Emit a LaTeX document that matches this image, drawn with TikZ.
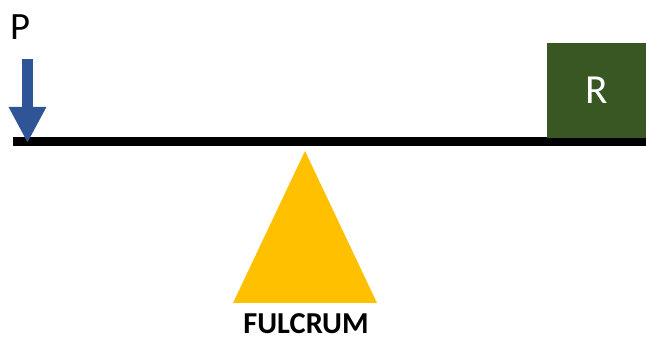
\documentclass[tikz,border=0pt]{standalone}
\usepackage{fontspec}
\setmainfont{Carlito}
\usetikzlibrary{positioning, arrows.meta}

\definecolor{loadgreen}{HTML}{385723}
\definecolor{forceblue}{HTML}{2F5597}
\definecolor{pivotgold}{HTML}{FFC000}

\begin{document}
\begin{tikzpicture}[
    x=0.75pt, y=-0.75pt,
    lever/.style={
        rectangle, fill=black, inner sep=0pt,
        minimum width=474.75pt, minimum height=6.75pt
    },
    load/.style={
        rectangle, fill=loadgreen, inner sep=0pt,
        minimum width=74.25pt, minimum height=71.25pt,
        text=white, font=\fontsize{31}{31}\selectfont
    },
    force/.style={
        forceblue, line width=8.25pt,
        -{Triangle[length=27pt, width=26.25pt]}
    },
    lbl/.style={inner sep=0pt, font=\fontsize{29}{29}\selectfont},
    pivotlbl/.style={inner sep=0pt, font=\fontsize{22.8}{22.8}\selectfont\bfseries},
]
\useasboundingbox (0,0) rectangle (646,338);

% Lever bar and load
\node[lever] (bar) at (329.5,141.5) {};
\node[load] (res) at (596.5,90.5) {R};

% Fulcrum
\coordinate (apex) at (305,151);
\fill[pivotgold] (apex) -- (377,303) -- (233,303) -- cycle;
\node[pivotlbl] (ful) at (306,324) {FULCRUM};

% Effort
\node[lbl] (eff) at (20,27) {P};
\coordinate (ptail) at (27.5,59);
\coordinate (ptip) at (27.5,143);
\draw[force] (ptail) -- (ptip);

\end{tikzpicture}
\end{document}
